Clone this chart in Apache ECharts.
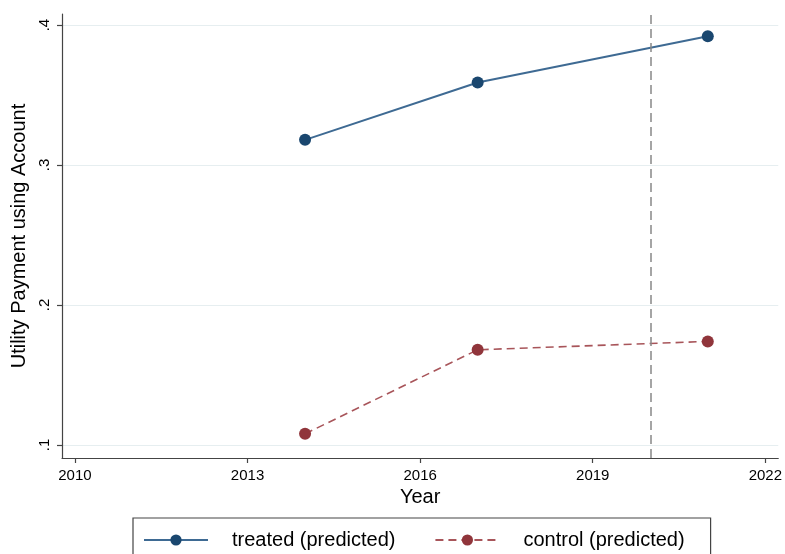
<!DOCTYPE html>
<html>
<head>
<meta charset="utf-8">
<script src="https://cdn.jsdelivr.net/npm/echarts@6/dist/echarts.min.js"></script>
<style>html,body{margin:0;padding:0;background:#fff;}#c{width:785px;height:554px;}</style>
</head>
<body>
<div id="c"></div>
<script>
const years = [2014, 2017, 2021];
const treated = [0.318, 0.359, 0.392];
const control = [0.108, 0.168, 0.174];
const xTicks = [2010, 2013, 2016, 2019, 2022];
const yTicks = [0.1, 0.2, 0.3, 0.4];
const yTickLabels = ['.1', '.2', '.3', '.4'];
const cutoffYear = 2020;

const FONT = '"Liberation Sans", Arial, Helvetica, sans-serif';
const chart = echarts.init(document.getElementById('c'), null, {renderer: 'canvas'});
chart.setOption({
  animation: false,
  backgroundColor: '#ffffff',
  grid: {left: 62, right: 4, top: 14, bottom: 96, containLabel: false},
  xAxis: {
    type: 'value',
    min: 2009.775, max: 2022.225,
    name: 'Year', nameLocation: 'middle', nameGap: 27,
    nameTextStyle: {fontFamily: FONT, fontSize: 20, color: '#000'},
    axisLine: {show: true, onZero: false, lineStyle: {color: '#444', width: 1.2}},
    axisTick: {show: true, length: 5, customValues: xTicks, lineStyle: {color: '#444', width: 1.2}},
    axisLabel: {customValues: xTicks, margin: 10, fontFamily: FONT, fontSize: 15, color: '#000', formatter: v => String(Math.round(v))},
    splitLine: {show: false}
  },
  yAxis: {
    type: 'value',
    min: 0.0907, max: 0.4079,
    name: 'Utility Payment using Account', nameLocation: 'middle', nameGap: 32, nameRotate: 90,
    nameTextStyle: {fontFamily: FONT, fontSize: 20, color: '#000'},
    axisLine: {show: true, onZero: false, lineStyle: {color: '#444', width: 1.2}},
    axisTick: {show: true, length: 5, customValues: yTicks, lineStyle: {color: '#444', width: 1.2}},
    axisLabel: {customValues: yTicks, rotate: 90, margin: 10, fontFamily: FONT, fontSize: 15, color: '#000',
      formatter: v => yTickLabels[yTicks.findIndex(t => Math.abs(t - v) < 1e-6)] || ''},
    splitLine: {show: true, lineStyle: {color: '#e6eef0', width: 1.2}}
  },
  legend: {
    left: 133, top: 518,
    padding: [12, 26, 12, 10],
    borderColor: '#444', borderWidth: 1.2,
    itemWidth: 64, itemHeight: 14, itemGap: 39,
    textStyle: {fontFamily: FONT, fontSize: 20, color: '#000', padding: [0, 0, 0, 19]},
    data: ['treated (predicted)', 'control (predicted)']
  },
  series: [
    {
      name: 'treated (predicted)', type: 'line',
      data: years.map((y, i) => [y, treated[i]]),
      symbol: 'circle', symbolSize: 12,
      itemStyle: {color: '#1a476f'},
      lineStyle: {color: '#3e6a93', width: 2},
      markLine: {
        silent: true, symbol: 'none', label: {show: false},
        lineStyle: {color: '#888', type: [9, 5], width: 1.5},
        data: [{xAxis: cutoffYear}]
      }
    },
    {
      name: 'control (predicted)', type: 'line',
      data: years.map((y, i) => [y, control[i]]),
      symbol: 'circle', symbolSize: 12,
      itemStyle: {color: '#90353b'},
      lineStyle: {color: '#a8555a', width: 1.6, type: [8, 5]}
    }
  ]
});
</script>
</body>
</html>
